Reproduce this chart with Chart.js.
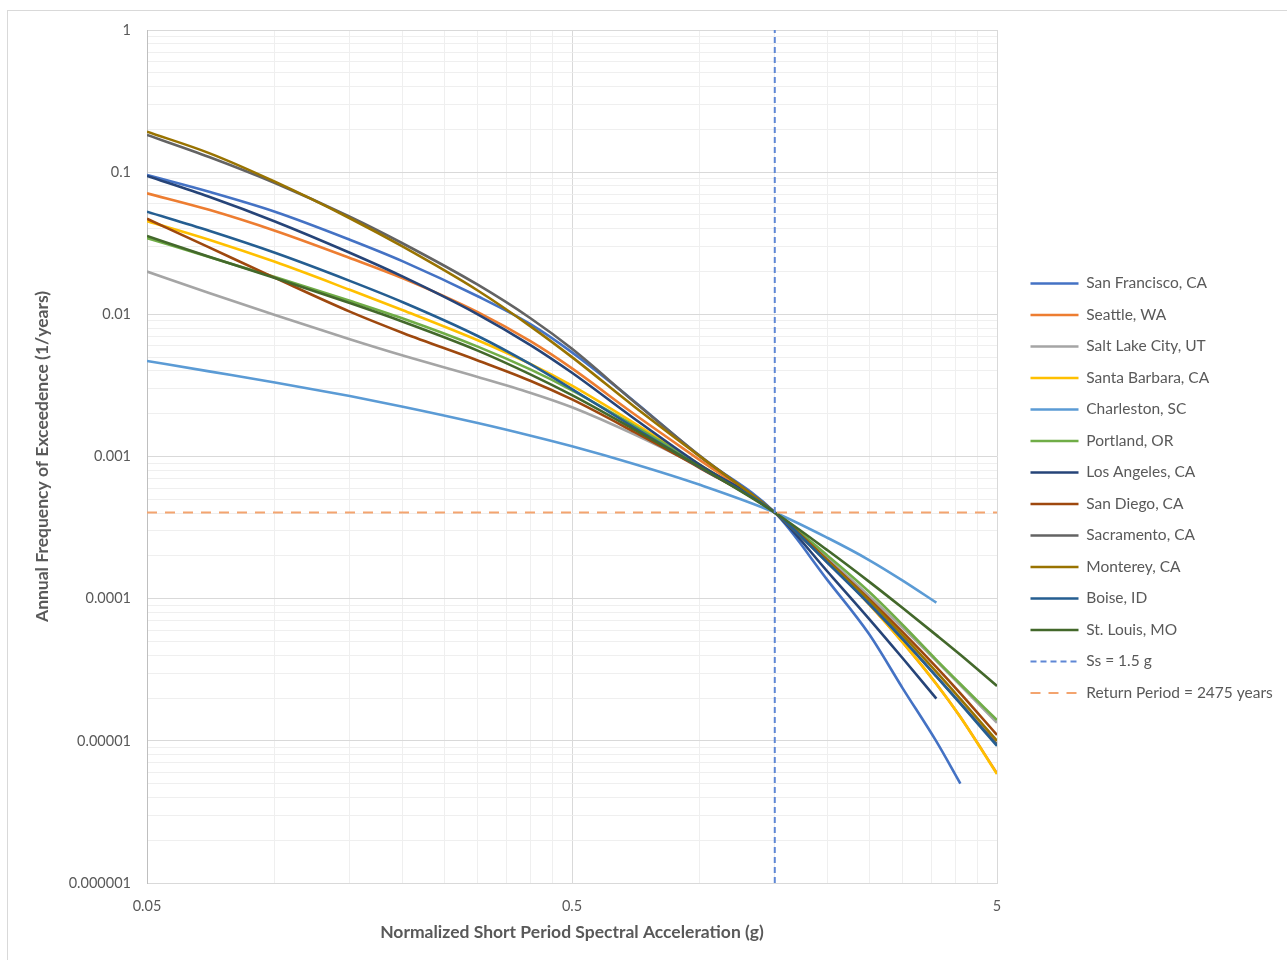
<!DOCTYPE html>
<html>
<head>
<meta charset="utf-8">
<script src="https://cdn.jsdelivr.net/npm/chart.js@4.4.1/dist/chart.umd.min.js"></script>
<style>
  html, body { margin: 0; padding: 0; background: #fff; overflow: hidden; }
  #frame { position: absolute; left: 7px; top: 10px; width: 1300px; height: 1000px; border: 1px solid #d9d9d9; box-sizing: border-box; }
  #wrap { position: absolute; left: 0; top: 0; width: 1287px; height: 960px; }
</style>
</head>
<body>
<div id="frame"></div>
<div id="wrap"><canvas id="myChart" width="1287" height="960"></canvas></div>
<script>
// normalized short period spectral acceleration (g)
const accel = [0.05, 0.07, 0.1, 0.15, 0.2, 0.3, 0.4, 0.5, 0.7, 1.0, 1.5, 2.0, 2.5, 3.0, 3.6, 4.1, 5.0];

// annual frequency of exceedence (1/years)
const sanFrancisco = [0.0955, 0.0728, 0.0527, 0.0335, 0.0236, 0.0134, 0.0085, 0.0054, 0.00245, 0.00100, 0.000404, 0.000134, 0.0000564, 0.0000234, 0.0000099, 0.0000050, null];
const seattle      = [0.0710, 0.0543, 0.0387, 0.0249, 0.0179, 0.01037, 0.00645, 0.00417, 0.00199, 0.000942, 0.000404, 0.000183, 0.0000917, 0.0000493, 0.0000251, 0.0000147, 0.0000059];
const saltLake     = [0.0200, 0.01414, 0.0099, 0.00668, 0.00513, 0.00363, 0.0028, 0.00222, 0.00143, 0.000839, 0.000404, 0.000191, 0.0001047, 0.0000623, 0.0000364, 0.0000246, 0.0000134];
const santaBarbara = [0.0453, 0.0335, 0.0234, 0.01488, 0.01069, 0.00657, 0.00446, 0.00315, 0.00172, 0.000874, 0.000404, 0.0001806, 0.0000915, 0.0000492, 0.0000251, 0.0000147, 0.00000584];
const charleston   = [0.0047, 0.00397, 0.00332, 0.00266, 0.00224, 0.00172, 0.0014, 0.00118, 0.000886, 0.000632, 0.000404, 0.000267, 0.000187, 0.000134, 0.0000937, null, null];
const portland     = [0.0344, 0.0253, 0.0183, 0.01246, 0.00935, 0.00593, 0.00408, 0.00292, 0.00165, 0.000868, 0.000404, 0.0001998, 0.0001118, 0.0000653, 0.0000371, 0.0000251, 0.0000140];
const losAngeles   = [0.0940, 0.0671, 0.0450, 0.0271, 0.0184, 0.0100, 0.00605, 0.00388, 0.00185, 0.000874, 0.000404, 0.000154, 0.0000722, 0.0000381, 0.0000198, null, null];
const sanDiego     = [0.0470, 0.02955, 0.01806, 0.01045, 0.0074, 0.00474, 0.0034, 0.00252, 0.00149, 0.00083, 0.000404, 0.000186, 0.0000995, 0.0000581, 0.000033, 0.0000216, 0.000011];
const sacramento   = [0.1826, 0.1278, 0.0839, 0.0486, 0.0315, 0.01615, 0.00935, 0.00572, 0.00243, 0.00101, 0.000404, 0.000178, 0.0000921, 0.0000519, 0.0000284, 0.0000184, 0.00000945];
const monterey     = [0.1926, 0.1362, 0.0857, 0.0474, 0.0299, 0.01471, 0.0082, 0.0050, 0.00225, 0.00100, 0.000404, 0.000183, 0.000097, 0.0000551, 0.0000305, 0.0000197, 0.0000100];
const boise        = [0.0527, 0.0387, 0.0271, 0.0172, 0.01217, 0.00704, 0.00444, 0.00298, 0.0016, 0.00084, 0.000404, 0.000178, 0.0000921, 0.0000519, 0.0000284, 0.0000183, 0.0000092];
const stLouis      = [0.0356, 0.0254, 0.0180, 0.0120, 0.00887, 0.00556, 0.00377, 0.0027, 0.00155, 0.000845, 0.000404, 0.000218, 0.0001318, 0.0000859, 0.0000554, 0.0000403, 0.0000243];

// reference lines
const ssValue = 1.5;
const returnPeriod = 2475;

// axes
const xMajor = [0.05, 0.5, 5];
const xTickLabels = ['0.05', '0.5', '5'];
const yMajor = [1e-6, 1e-5, 1e-4, 1e-3, 1e-2, 1e-1, 1];
const yTickLabels = ['0.000001', '0.00001', '0.0001', '0.001', '0.01', '0.1', '1'];

const font = 'Lato';
const textColor = '#595959';

// gridlines at every 1..9 step inside each decade
const gridValues = (majors) => {
    let out = [];
    for (let i = 0; i < majors.length - 1; i++) {
        for (let k = 1; k < 10; k++) out.push(majors[i] * k);
    }
    out.push(majors[majors.length - 1]);
    return out;
};
const majorIndex = (list, v) => list.findIndex(m => Math.abs(v - m) / m < 1e-6);

const series = [
    ['San Francisco, CA', sanFrancisco, '#4472C4'],
    ['Seattle, WA', seattle, '#ED7D31'],
    ['Salt Lake City, UT', saltLake, '#A5A5A5'],
    ['Santa Barbara, CA', santaBarbara, '#FFC000'],
    ['Charleston, SC', charleston, '#5B9BD5'],
    ['Portland, OR', portland, '#70AD47'],
    ['Los Angeles, CA', losAngeles, '#264478'],
    ['San Diego, CA', sanDiego, '#9E480E'],
    ['Sacramento, CA', sacramento, '#636363'],
    ['Monterey, CA', monterey, '#997300'],
    ['Boise, ID', boise, '#255E91'],
    ['St. Louis, MO', stLouis, '#43682B']
];

let datasets = series.map(([name, vals, color]) => ({
    label: name,
    data: accel.map((x, i) => ({ x: x, y: vals[i] })),
    borderColor: color,
    backgroundColor: color,
    borderWidth: 2.6,
    pointRadius: 0,
    cubicInterpolationMode: 'monotone',
    fill: false
}));

datasets.push({
    label: 'Ss = ' + ssValue + ' g',
    data: [{ x: ssValue, y: yMajor[0] }, { x: ssValue, y: yMajor[yMajor.length - 1] }],
    borderColor: '#5E87D5',
    backgroundColor: '#5E87D5',
    borderWidth: 2,
    borderDash: [6, 4],
    pointRadius: 0,
    fill: false
});
datasets.push({
    label: 'Return Period = ' + returnPeriod + ' years',
    data: [{ x: xMajor[0], y: 1 / returnPeriod }, { x: xMajor[xMajor.length - 1], y: 1 / returnPeriod }],
    borderColor: '#F3A46F',
    backgroundColor: '#F3A46F',
    borderWidth: 2,
    borderDash: [10, 8],
    pointRadius: 0,
    fill: false
});

// later series are painted over earlier ones, like the original
datasets.forEach((d, i) => { d.order = datasets.length - i; });

// nudge the legend column away from the plot and let it run to the edge
const legendShift = {
    id: 'legendShift',
    afterLayout(chart) {
        const lg = chart.legend;
        lg.left += 17.5;
        lg.right = chart.width;
        lg.width = lg.right - lg.left;
    }
};

// legend samples take the dataset's own line width and dash
const legendLabels = (chart) =>
    Chart.defaults.plugins.legend.labels.generateLabels(chart).map(item => {
        const ds = chart.data.datasets[item.datasetIndex];
        item.strokeStyle = ds.borderColor;
        item.lineWidth = ds.borderWidth;
        item.lineDash = ds.borderDash || [];
        return item;
    });

var ctx = document.getElementById('myChart').getContext('2d');
var chart = new Chart(ctx, {
    type: 'line',
    data: { datasets: datasets },
    options: {
        responsive: false,
        animation: false,
        layout: { padding: { left: 0, top: 30, right: 50, bottom: 0 } },
        scales: {
            x: {
                type: 'logarithmic',
                min: xMajor[0],
                max: xMajor[xMajor.length - 1],
                afterBuildTicks: s => { s.ticks = gridValues(xMajor).map(v => ({ value: v })); },
                afterFit: s => { s.height = 77; },
                ticks: {
                    autoSkip: false,
                    maxRotation: 0,
                    padding: 15,
                    color: textColor,
                    font: { family: font, size: 14.5 },
                    callback: v => { const i = majorIndex(xMajor, v); return i < 0 ? '' : xTickLabels[i]; }
                },
                grid: {
                    drawTicks: false,
                    color: c => (c.tick && majorIndex(xMajor, c.tick.value) >= 0) ? '#D9D9D9' : '#EFEFEF'
                },
                border: { color: '#D9D9D9' },
                title: {
                    display: true,
                    text: 'Normalized Short Period Spectral Acceleration (g)',
                    color: textColor,
                    font: { family: font, size: 17.5, weight: 'bold' },
                    padding: { bottom: 17 }
                }
            },
            y: {
                type: 'logarithmic',
                min: yMajor[0],
                max: yMajor[yMajor.length - 1],
                afterBuildTicks: s => { s.ticks = gridValues(yMajor).map(v => ({ value: v })); },
                afterFit: s => { s.width = 147; },
                ticks: {
                    autoSkip: false,
                    padding: 16,
                    color: textColor,
                    font: { family: font, size: 14.5 },
                    callback: v => { const i = majorIndex(yMajor, v); return i < 0 ? '' : yTickLabels[i]; }
                },
                grid: {
                    drawTicks: false,
                    color: c => (c.tick && majorIndex(yMajor, c.tick.value) >= 0) ? '#D9D9D9' : '#EFEFEF'
                },
                border: { color: '#BFBFBF' },
                title: {
                    display: true,
                    text: 'Annual Frequency of Exceedence (1/years)',
                    color: textColor,
                    font: { family: font, size: 17.5, weight: 'bold' },
                    padding: { top: 32 }
                }
            }
        },
        plugins: {
            tooltip: { enabled: false },
            legend: {
                position: 'right',
                fullSize: false,
                maxWidth: 240,
                title: { display: true, text: ' ', padding: 24.5, font: { size: 12 } },
                labels: {
                    usePointStyle: true,
                    pointStyle: 'line',
                    pointStyleWidth: 48,
                    padding: 16,
                    color: textColor,
                    font: { family: font, size: 15.5 },
                    generateLabels: legendLabels,
                    sort: (a, b) => a.datasetIndex - b.datasetIndex
                }
            }
        }
    },
    plugins: [legendShift]
});
</script>
</body>
</html>
